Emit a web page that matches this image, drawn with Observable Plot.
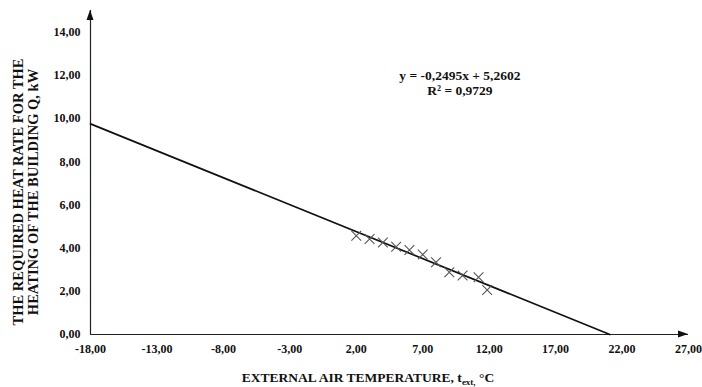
<!DOCTYPE html>
<html>
<head>
<meta charset="utf-8">
<script src="https://cdn.jsdelivr.net/npm/d3@7"></script>
<script src="https://cdn.jsdelivr.net/npm/@observablehq/plot@0.6"></script>
<style>
  html, body { margin: 0; padding: 0; background: #fff; }
  #chart svg { display: block; }
</style>
</head>
<body>
<div id="chart"></div>
<script>
// ---- data ----
const temps = [2, 3, 4, 5, 6, 7, 8, 9, 10, 11.2, 11.85];
const heat  = [4.57, 4.42, 4.26, 4.06, 3.91, 3.70, 3.34, 2.88, 2.73, 2.65, 2.06];
const slope = -0.2495;
const intercept = 5.2602;
const r2 = 0.9729;
const xTicks = [-18, -13, -8, -3, 2, 7, 12, 17, 22, 27];
const yTicks = [0, 2, 4, 6, 8, 10, 12, 14];
const xDomain = [-18, 27];
const yDomain = [0, 15];
const eqPos = [{x: 9.8, y: 12.3}];

const fmt = (v, d) => v.toFixed(d).replace(".", ",");
const points = temps.map((t, i) => ({t, q: heat[i]}));
const xZero = -intercept / slope;
const trend = [xDomain[0], xZero].map(x => ({x, y: slope * x + intercept}));
const eqText = `y = ${fmt(slope, 4)}x + ${fmt(intercept, 4)}\nR² = ${fmt(r2, 4)}`;

const plot = Plot.plot({
  width: 702,
  height: 387,
  marginLeft: 90,
  marginRight: 14,
  marginTop: 10,
  marginBottom: 53,
  style: {fontFamily: "'Liberation Serif', 'Times New Roman', serif", fontSize: "12px", fontWeight: "bold", color: "#111", background: "#fff"},
  x: {domain: xDomain, ticks: xTicks, tickFormat: d => fmt(d, 2), tickSize: 0, tickPadding: 10, label: null},
  y: {domain: yDomain, ticks: yTicks, tickFormat: d => fmt(d, 2), tickSize: 0, tickPadding: 10, label: null},
  marks: [
    Plot.ruleY([yDomain[0]], {stroke: "#222", strokeWidth: 1.2}),
    Plot.ruleX([xDomain[0]], {stroke: "#222", strokeWidth: 1.2}),
    Plot.line(trend, {x: "x", y: "y", stroke: "#111", strokeWidth: 1.7}),
    Plot.dot(points, {x: "t", y: "q", symbol: "times", r: 4.5, stroke: "#555", strokeWidth: 1.1}),
    Plot.text(eqPos, {x: "x", y: "y", text: () => eqText, fontSize: 13.5, fontWeight: "bold", lineHeight: 1.12, lineAnchor: "top", fill: "#111"})
  ]
});

document.getElementById("chart").appendChild(plot);

// axis arrowheads and titles
const svg = d3.select(plot);
const sx = plot.scale("x"), sy = plot.scale("y");
const x0 = sx.apply(xDomain[0]), x1 = sx.apply(xDomain[1]);
const y0 = sy.apply(yDomain[0]), y1 = sy.apply(yDomain[1]);
svg.append("path")
  .attr("d", `M${x1},${y0} L${x1 - 10},${y0 - 3.5} L${x1 - 10},${y0 + 3.5} Z`)
  .attr("fill", "#111");
svg.append("path")
  .attr("d", `M${x0},${y1} L${x0 - 3.5},${y1 + 10} L${x0 + 3.5},${y1 + 10} Z`)
  .attr("fill", "#111");

const xt = svg.append("text")
  .attr("x", 368).attr("y", 382)
  .attr("text-anchor", "middle")
  .attr("font-size", 13.5).attr("font-weight", "bold").attr("fill", "#111");
xt.append("tspan").text("EXTERNAL AIR TEMPERATURE, t");
xt.append("tspan").attr("font-size", 9).attr("dy", 3).text("ext,");
xt.append("tspan").attr("dy", -3).text(" °C");

const yt = svg.append("text")
  .attr("transform", "translate(23,192) rotate(-90)")
  .attr("text-anchor", "middle")
  .attr("font-size", 14.5).attr("font-weight", "bold").attr("fill", "#111");
yt.append("tspan").attr("x", 0).attr("y", 0).text("THE REQUIRED HEAT RATE FOR THE");
yt.append("tspan").attr("x", 0).attr("y", 15).text("HEATING OF THE BUILDING Q, kW");
</script>
</body>
</html>
